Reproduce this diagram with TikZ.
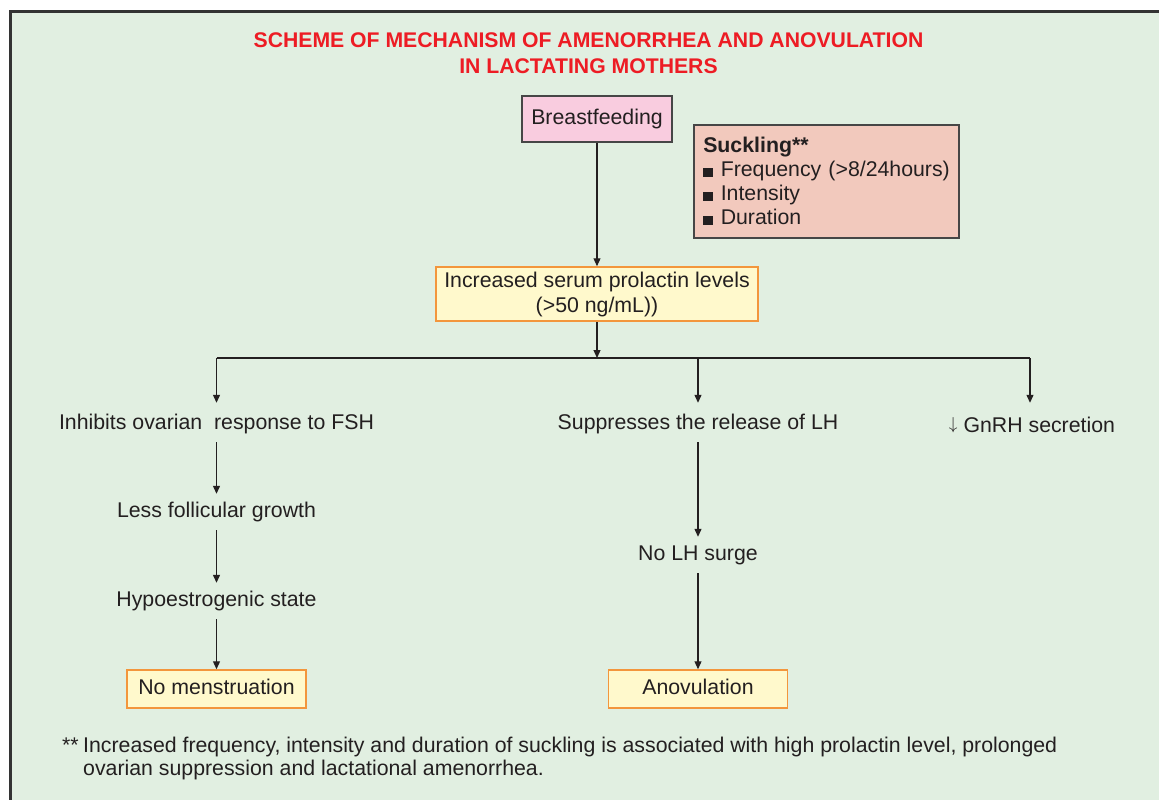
\documentclass[tikz,border=0pt]{standalone}
\usepackage{fontspec}
\setmainfont{Liberation Sans}
\usetikzlibrary{arrows.meta}
\definecolor{bggreen}{RGB}{225,239,225}
\definecolor{framegray}{RGB}{51,51,51}
\definecolor{txtgray}{RGB}{35,31,32}
\definecolor{titlered}{RGB}{237,28,36}
\definecolor{pinkfill}{RGB}{249,204,223}
\definecolor{salmonfill}{RGB}{242,201,189}
\definecolor{yellowfill}{RGB}{255,249,204}
\definecolor{orangeline}{RGB}{243,150,60}
\definecolor{boxgray}{RGB}{70,70,70}
\newcommand\mysqbullet{\rule{9.5pt}{9pt}\hspace{8pt}}
\newcommand\mydownarrow{\raisebox{3pt}{\fontsize{18}{20}\selectfont$\downarrow$}}
\begin{document}
\begin{tikzpicture}[x=1pt,y=-1pt,
  every node/.style={font=\fontsize{21.3}{25}\selectfont, text=txtgray},
  plain/.style={inner xsep=2pt, inner ysep=8pt, text height=15pt, text depth=5pt, anchor=base},
  resbox/.style={draw=orangeline, line width=1.5pt, fill=yellowfill, minimum width=179pt, minimum height=38pt, inner sep=0pt, text height=15pt, text depth=5pt},
  arr/.style={draw=txtgray, line width=1.2pt, -{Triangle[length=8pt,width=7pt]}},
  link/.style={draw=txtgray, line width=1.2pt}]
\useasboundingbox (0,0) rectangle (1159,800);
\clip (0,0) rectangle (1159,800);
\draw[draw=framegray, line width=3pt, fill=bggreen] (10.5,11.5) rectangle (1185,825);

% title
\node[font=\fontsize{21.2}{26}\selectfont\bfseries, text=titlered, align=center, inner sep=0pt]
  (title) at (588.5,53.4) {SCHEME OF MECHANISM OF AMENORRHEA AND ANOVULATION\\IN LACTATING MOTHERS};

% top boxes
\node[draw=boxgray, line width=1.5pt, fill=pinkfill, minimum width=150pt, minimum height=46pt,
  inner sep=0pt, text height=15pt, text depth=5pt] (bf) at (597,119) {Breastfeeding};
\node[draw=boxgray, line width=1.5pt, fill=salmonfill, anchor=north west, text width=250pt,
  inner xsep=7.5pt, inner ysep=0pt, minimum height=113pt, align=left,
  font=\fontsize{21.3}{24}\selectfont] (suck) at (693,124)
  {\rule{0pt}{20pt}\hspace{2pt}\textbf{Suckling**}\\
   \hspace*{2pt}\mysqbullet Frequency (>8/24hours)\\
   \hspace*{2pt}\mysqbullet Intensity\\
   \hspace*{2pt}\mysqbullet Duration\rule[-5pt]{0pt}{5pt}};
\node[draw=orangeline, line width=1.5pt, fill=yellowfill, minimum width=322pt, minimum height=54pt,
  inner sep=0pt, align=center] (prol) at (597,294)
  {Increased serum prolactin levels\\(>50 ng/mL))};

% branch coordinates
\coordinate (jc) at (597,358);
\coordinate (jl) at (216.5,358);
\coordinate (jm) at (698,358);
\coordinate (jr) at (1030,358);

% level 2 texts
\node[plain] (inh) at (216.5,429) {Inhibits ovarian\ \ response to FSH};
\node[plain] (supp) at (698,429) {Suppresses the release of LH};
\node[plain] (gnrh) at (1032,432) {\mydownarrow\ GnRH secretion};

% left column
\node[plain] (less) at (216.5,517) {Less follicular growth};
\node[plain] (hypo) at (216.5,606) {Hypoestrogenic state};
\node[resbox] (nomen) at (216.5,689) {No menstruation};

% middle column
\node[plain] (nolh) at (698,560) {No LH surge};
\node[resbox] (anov) at (698,689) {Anovulation};

% footnote
\node[anchor=base west, inner sep=0pt] (fstar) at (62,752) {**};
\node[anchor=north west, inner sep=0pt, align=left, font=\fontsize{21.3}{23}\selectfont] (fn) at (83,736.7)
  {Increased frequency, intensity and duration of suckling is associated with high prolactin level, prolonged\\
   ovarian suppression and lactational amenorrhea.};

% connectors
\draw[arr] (bf.south) -- (prol.north);
\draw[arr] (prol.south) -- (jc);
\draw[link] (jl) -- (jr);
\path (jr |- gnrh.north) coordinate (gtop);
\draw[arr] (jl) -- ([yshift=3pt]inh.north);
\draw[arr] (jm) -- ([yshift=3pt]supp.north);
\draw[arr] (jr) -- ([yshift=6pt]gtop);
\draw[arr] (inh.south) -- (less.north);
\draw[arr] (less.south) -- (hypo.north);
\draw[arr] (hypo.south) -- (nomen.north);
\draw[arr] (supp.south) -- (nolh.north);
\draw[arr] (nolh.south) -- (anov.north);
\end{tikzpicture}
\end{document}
